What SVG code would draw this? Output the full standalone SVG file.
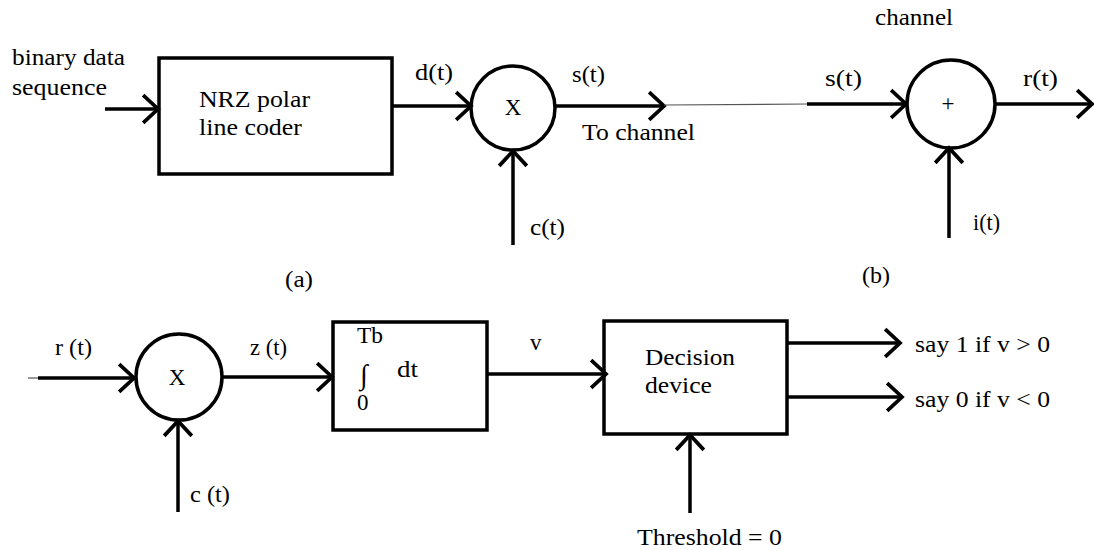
<svg xmlns="http://www.w3.org/2000/svg" width="1094" height="550" viewBox="0 0 1094 550">
<style>
text{font-family:"Liberation Serif","Times New Roman",serif;font-size:23px;fill:#000}
.box{fill:none;stroke:#000;stroke-width:3.5}
.ln{fill:none;stroke:#000;stroke-width:3.5}
.thin{fill:none;stroke:#555;stroke-width:1.2}
</style>
<defs>
<marker id="ah" markerUnits="userSpaceOnUse" markerWidth="34" markerHeight="34" viewBox="-18 -16 22 32" refX="0" refY="0" orient="auto">
<path d="M-14,-13 L0,0 L-14,13" fill="none" stroke="#000" stroke-width="3.5"/>
</marker>
</defs>
<rect width="1094" height="550" fill="#fff"/>

<g id="connectors">
<line class="ln" x1="105" y1="109" x2="158" y2="109" marker-end="url(#ah)"/>
<line class="ln" x1="392" y1="106" x2="471" y2="106" marker-end="url(#ah)"/>
<line class="ln" x1="555" y1="106" x2="664" y2="106" marker-end="url(#ah)"/>
<line class="thin" x1="664" y1="105" x2="807" y2="104"/>
<line class="ln" x1="513" y1="245" x2="513" y2="151" marker-end="url(#ah)"/>
<line class="ln" x1="807" y1="104" x2="906" y2="104" marker-end="url(#ah)"/>
<line class="ln" x1="996" y1="104" x2="1092" y2="104" marker-end="url(#ah)"/>
<line class="ln" x1="949" y1="238" x2="949" y2="148" marker-end="url(#ah)"/>
<line class="thin" x1="28" y1="378" x2="40" y2="378"/>
<line class="ln" x1="38" y1="378" x2="134" y2="378" marker-end="url(#ah)"/>
<line class="ln" x1="223" y1="377" x2="332" y2="377" marker-end="url(#ah)"/>
<line class="ln" x1="178" y1="512" x2="178" y2="421" marker-end="url(#ah)"/>
<line class="ln" x1="487" y1="374" x2="606" y2="374" marker-end="url(#ah)"/>
<line class="ln" x1="787" y1="343" x2="900" y2="343" marker-end="url(#ah)"/>
<line class="ln" x1="787" y1="397" x2="902" y2="397" marker-end="url(#ah)"/>
<line class="ln" x1="690" y1="513" x2="690" y2="435" marker-end="url(#ah)"/>
</g>

<g id="labels">
<text x="12" y="65" textLength="113" lengthAdjust="spacingAndGlyphs">binary data</text>
<text x="12" y="95" textLength="95" lengthAdjust="spacingAndGlyphs">sequence</text>
<text x="415" y="80" textLength="38" lengthAdjust="spacingAndGlyphs">d(t)</text>
<text x="572" y="82" textLength="33" lengthAdjust="spacingAndGlyphs">s(t)</text>
<text x="582" y="140" textLength="113" lengthAdjust="spacingAndGlyphs">To channel</text>
<text x="530" y="235" textLength="35" lengthAdjust="spacingAndGlyphs">c(t)</text>
<text x="875" y="25" textLength="78" lengthAdjust="spacingAndGlyphs">channel</text>
<text x="825" y="86" textLength="37" lengthAdjust="spacingAndGlyphs">s(t)</text>
<text x="1023" y="86" textLength="35" lengthAdjust="spacingAndGlyphs">r(t)</text>
<text x="973" y="230" textLength="27" lengthAdjust="spacingAndGlyphs">i(t)</text>
<text x="285" y="287" textLength="28" lengthAdjust="spacingAndGlyphs">(a)</text>
<text x="862" y="283" textLength="28" lengthAdjust="spacingAndGlyphs">(b)</text>
<text x="55" y="355" textLength="37" lengthAdjust="spacingAndGlyphs">r (t)</text>
<text x="250" y="355" textLength="37" lengthAdjust="spacingAndGlyphs">z (t)</text>
<text x="190" y="502" textLength="40" lengthAdjust="spacingAndGlyphs">c (t)</text>
<text x="530" y="350">v</text>
<text x="915" y="352" textLength="135" lengthAdjust="spacingAndGlyphs">say 1 if v &gt; 0</text>
<text x="915" y="407" textLength="135" lengthAdjust="spacingAndGlyphs">say 0 if v &lt; 0</text>
<text x="637" y="545" textLength="145" lengthAdjust="spacingAndGlyphs">Threshold = 0</text>
</g>

<g id="nrz">
<rect class="box" x="159" y="58" width="233" height="116"/>
<text x="199" y="107" textLength="111" lengthAdjust="spacingAndGlyphs">NRZ polar</text>
<text x="199" y="135" textLength="103" lengthAdjust="spacingAndGlyphs">line coder</text>
</g>

<g id="mult1">
<circle class="box" cx="513" cy="108" r="42"/>
<text x="513" y="115" text-anchor="middle">X</text>
</g>

<g id="adder">
<circle class="box" cx="951" cy="104" r="44"/>
<text x="948" y="111" text-anchor="middle">+</text>
</g>

<g id="mult2">
<circle class="box" cx="179" cy="377" r="43"/>
<text x="177" y="385" text-anchor="middle">X</text>
</g>

<g id="integrator">
<rect class="box" x="333" y="322" width="154" height="108"/>
<text x="357" y="343" textLength="26" lengthAdjust="spacingAndGlyphs">Tb</text>
<text x="360" y="384" style="font-size:28px">∫</text>
<text x="397" y="377" textLength="21" lengthAdjust="spacingAndGlyphs">dt</text>
<text x="357" y="410">0</text>
</g>

<g id="decision">
<rect class="box" x="604" y="321" width="183" height="113"/>
<text x="645" y="365" textLength="90" lengthAdjust="spacingAndGlyphs">Decision</text>
<text x="645" y="393" textLength="67" lengthAdjust="spacingAndGlyphs">device</text>
</g>
</svg>
